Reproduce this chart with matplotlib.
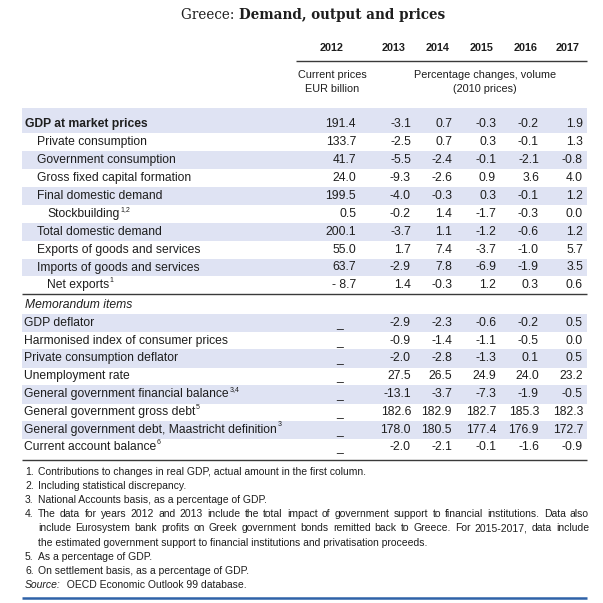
import matplotlib
matplotlib.use("Agg")
import matplotlib.pyplot as plt
from matplotlib.patches import Rectangle

# ---------------- data ----------------
title_country = "Greece: "
title_main = "Demand, output and prices"
years = ["2012", "2013", "2014", "2015", "2016", "2017"]
sub_2012 = ["Current prices", "EUR billion"]
sub_rest = ["Percentage changes, volume", "(2010 prices)"]

main_labels = ["GDP at market prices", "Private consumption", "Government consumption",
               "Gross fixed capital formation", "Final domestic demand", "Stockbuilding",
               "Total domestic demand", "Exports of goods and services",
               "Imports of goods and services", "Net exports"]
main_level = [0, 1, 1, 1, 1, 2, 1, 1, 1, 2]
main_sup = ["", "", "", "", "", "1,2", "", "", "", "1"]
main_2012 = [191.4, 133.7, 41.7, 24.0, 199.5, 0.5, 200.1, 55.0, 63.7, -8.7]
main_2013 = [-3.1, -2.5, -5.5, -9.3, -4.0, -0.2, -3.7, 1.7, -2.9, 1.4]
main_2014 = [0.7, 0.7, -2.4, -2.6, -0.3, 1.4, 1.1, 7.4, 7.8, -0.3]
main_2015 = [-0.3, 0.3, -0.1, 0.9, 0.3, -1.7, -1.2, -3.7, -6.9, 1.2]
main_2016 = [-0.2, -0.1, -2.1, 3.6, -0.1, -0.3, -0.6, -1.0, -1.9, 0.3]
main_2017 = [1.9, 1.3, -0.8, 4.0, 1.2, 0.0, 1.2, 5.7, 3.5, 0.6]

memo_title = "Memorandum items"
memo_labels = ["GDP deflator", "Harmonised index of consumer prices",
               "Private consumption deflator", "Unemployment rate",
               "General government financial balance", "General government gross debt",
               "General government debt, Maastricht definition", "Current account balance"]
memo_sup = ["", "", "", "", "3,4", "5", "3", "6"]
memo_2012 = ["_"] * 8
memo_2013 = [-2.9, -0.9, -2.0, 27.5, -13.1, 182.6, 178.0, -2.0]
memo_2014 = [-2.3, -1.4, -2.8, 26.5, -3.7, 182.9, 180.5, -2.1]
memo_2015 = [-0.6, -1.1, -1.3, 24.9, -7.3, 182.7, 177.4, -0.1]
memo_2016 = [-0.2, -0.5, 0.1, 24.0, -1.9, 185.3, 176.9, -1.6]
memo_2017 = [0.5, 0.0, 0.5, 23.2, -0.5, 182.3, 172.7, -0.9]

footnote_nums = ["1.", "2.", "3.", "4.", "", "", "5.", "6."]
footnote_texts = [
    "Contributions to changes in real GDP, actual amount in the first column.",
    "Including statistical discrepancy.",
    "National Accounts basis, as a percentage of GDP.",
    "The data for years 2012 and 2013 include the total impact of government support to financial institutions. Data also",
    "include Eurosystem bank profits on Greek government bonds remitted back to Greece. For 2015-2017, data include",
    "the estimated government support to financial institutions and privatisation proceeds.",
    "As a percentage of GDP.",
    "On settlement basis, as a percentage of GDP.",
]
footnote_justify = [False, False, False, True, True, False, False, False]
source_label = "Source:"
source_text = "  OECD Economic Outlook 99 database."

# ---------------- layout ----------------
W = H = 603
DPI = 100
fig = plt.figure(figsize=(W / DPI, H / DPI), dpi=DPI)
ax = fig.add_axes([0, 0, 1, 1])
ax.set_xlim(0, W)
ax.set_ylim(H, 0)
ax.axis("off")

SANS = "Liberation Sans"
TXT = "#1e1e1e"
BAND = "#dfe3f3"
LINE = "#3a3a3a"
FS = 8.7
FS_HEAD = 7.8
FS_FOOT = 7.5
FS_SUP = 5.0

left, right = 22, 587
col_right = [356, 411, 452, 496, 539, 583]
col_head = [332, 394, 438, 482, 526, 568]
level_x = [25, 37, 47]
row_h = 17.9

renderer = fig.canvas.get_renderer()

def add_sup(t, s, y):
    if s:
        bb = t.get_window_extent(renderer)
        ax.text(bb.x1 + 0.6, y - 4.6, s, ha="left", va="center", fontsize=FS_SUP,
                family=SANS, color=TXT)

def fmt(v, first=False):
    if isinstance(v, str):
        return v
    if first and v < 0:
        return "- %.1f" % abs(v)
    return "%.1f" % v

# title
t1 = ax.text(0, 15, title_country, family="DejaVu Serif", fontsize=11.5, color=TXT,
             ha="left", va="center")
t2 = ax.text(0, 15, title_main, family="DejaVu Serif", fontsize=11.5, weight="bold",
             color=TXT, ha="left", va="center")
w1 = t1.get_window_extent(renderer).width
w2 = t2.get_window_extent(renderer).width
scale = 264.0 / (w1 + w2)
for t in (t1, t2):
    t.set_fontsize(11.5 * scale)
w1 = t1.get_window_extent(renderer).width
w2 = t2.get_window_extent(renderer).width
x0 = 313 - (w1 + w2) / 2
t1.set_x(x0)
t2.set_x(x0 + w1)

# header
for x, y in zip(col_head, years):
    ax.text(x, 48, y, ha="center", va="center", fontsize=FS_HEAD, weight="bold",
            family=SANS, color=TXT)
ax.plot([296, right], [61, 61], color=LINE, lw=1.0, solid_capstyle="butt")
for i, s in enumerate(sub_2012):
    ax.text(col_head[0], 75 + 13.5 * i, s, ha="center", va="center", fontsize=FS_HEAD,
            family=SANS, color=TXT)
for i, s in enumerate(sub_rest):
    ax.text(485, 75 + 13.5 * i, s, ha="center", va="center", fontsize=FS_HEAD,
            family=SANS, color=TXT)

# main block
main_cols = [main_2012, main_2013, main_2014, main_2015, main_2016, main_2017]
y0 = 124.3
for i, lab in enumerate(main_labels):
    y = y0 + i * row_h
    if i % 2 == 0:
        top = 108 if i == 0 else y - row_h / 2
        ax.add_patch(Rectangle((left, top), right - left, y + row_h / 2 - top,
                               facecolor=BAND, edgecolor="none", zorder=0))
    t = ax.text(level_x[main_level[i]], y, lab, ha="left", va="center", fontsize=FS,
                weight="bold" if i == 0 else "normal", family=SANS, color=TXT)
    add_sup(t, main_sup[i], y)
    for c, col in enumerate(main_cols):
        ax.text(col_right[c], y, fmt(col[i], c == 0), ha="right", va="center",
                fontsize=FS, family=SANS, color=TXT)

line1 = y0 + 9 * row_h + 8.5
ax.plot([left, right], [line1, line1], color=LINE, lw=1.0, solid_capstyle="butt")

# memorandum block
ym = 305
ax.text(25, ym, memo_title, ha="left", va="center", fontsize=FS,
        style="italic", family=SANS, color=TXT)
memo_cols = [memo_2012, memo_2013, memo_2014, memo_2015, memo_2016, memo_2017]
for i, lab in enumerate(memo_labels):
    y = ym + 17.8 * (i + 1)
    if i % 2 == 0:
        ax.add_patch(Rectangle((left, y - 9), right - left, 18.5,
                               facecolor=BAND, edgecolor="none", zorder=0))
    t = ax.text(24, y, lab, ha="left", va="center", fontsize=FS,
                family=SANS, color=TXT)
    add_sup(t, memo_sup[i], y)
    ax.text(340, y + 1, memo_2012[i], ha="center", va="center", fontsize=FS,
            family=SANS, color=TXT)
    for c, col in enumerate(memo_cols[1:], start=1):
        ax.text(col_right[c], y, fmt(col[i]), ha="right", va="center",
                fontsize=FS, family=SANS, color=TXT)

line2 = 460
ax.plot([left, right], [line2, line2], color=LINE, lw=1.0, solid_capstyle="butt")

# footnotes
fy = 472
text_x, text_right = 38, 589
for i, (n, s) in enumerate(zip(footnote_nums, footnote_texts)):
    y = fy + 14.1 * i
    if n:
        ax.text(25, y, n, ha="left", va="center", fontsize=FS_FOOT, family=SANS, color=TXT)
    if footnote_justify[i]:
        words = s.split(" ")
        arts = [ax.text(0, y, w, ha="left", va="center", fontsize=FS_FOOT, family=SANS,
                        color=TXT) for w in words]
        widths = [a.get_window_extent(renderer).width for a in arts]
        gap = (text_right - text_x - sum(widths)) / (len(words) - 1)
        x = text_x
        for a, w in zip(arts, widths):
            a.set_x(x)
            x += w + gap
    else:
        ax.text(text_x, y, s, ha="left", va="center", fontsize=FS_FOOT, family=SANS, color=TXT)
ys = fy + 14.1 * len(footnote_texts)
ts = ax.text(25, ys, source_label, ha="left", va="center", fontsize=FS_FOOT,
             style="italic", family=SANS, color=TXT)
ax.annotate(source_text, xy=(1, 0.5), xycoords=ts, ha="left", va="center",
            fontsize=FS_FOOT, family=SANS, color=TXT)

ax.plot([left, right], [598, 598], color="#2f62a8", lw=1.8, solid_capstyle="butt")

fig.savefig("out.png", dpi=DPI, facecolor="white")
